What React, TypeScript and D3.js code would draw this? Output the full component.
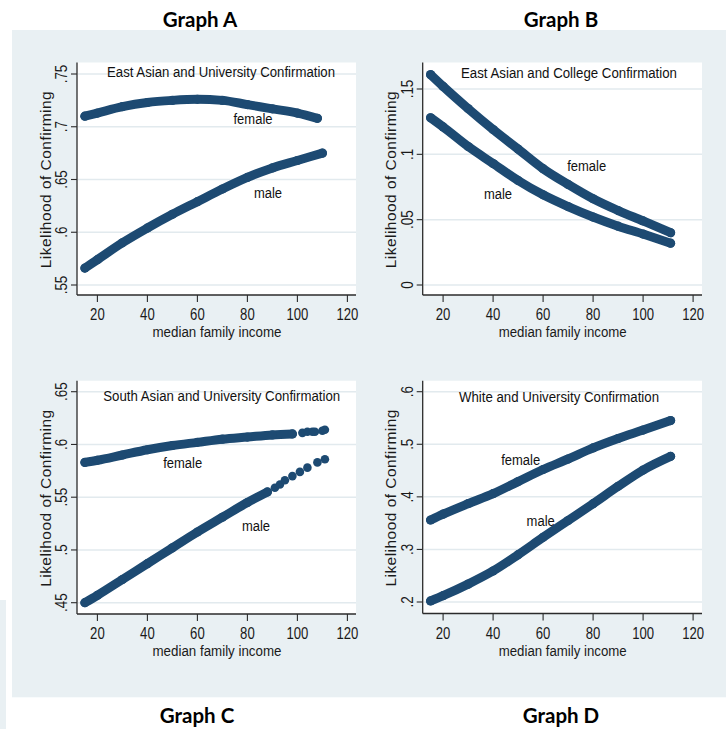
import React from "react";
import * as d3 from "d3";

// ---------- data ----------
const incomeTicks = [20, 40, 60, 80, 100, 120];

// Graph A: East Asian and University Confirmation
const aFemaleIncome = [15, 20, 30, 40, 50, 60, 70, 80, 90, 100, 108];
const aFemaleLik = [0.71, 0.713, 0.719, 0.723, 0.725, 0.726, 0.725, 0.721, 0.717, 0.713, 0.708];
const aMaleIncome = [15, 20, 30, 40, 50, 60, 70, 80, 90, 100, 110];
const aMaleLik = [0.566, 0.574, 0.59, 0.604, 0.617, 0.629, 0.641, 0.652, 0.661, 0.668, 0.675];
const aYTicks = [0.55, 0.6, 0.65, 0.7, 0.75];
const aYLabels = [".55", ".6", ".65", ".7", ".75"];

// Graph B: East Asian and College Confirmation
const bFemaleIncome = [15, 20, 30, 40, 50, 60, 70, 80, 90, 100, 111];
const bFemaleLik = [0.161, 0.152, 0.135, 0.119, 0.104, 0.089, 0.077, 0.066, 0.057, 0.049, 0.04];
const bMaleIncome = [15, 20, 30, 40, 50, 60, 70, 80, 90, 100, 111];
const bMaleLik = [0.128, 0.121, 0.106, 0.093, 0.08, 0.069, 0.06, 0.052, 0.045, 0.039, 0.032];
const bYTicks = [0, 0.05, 0.1, 0.15];
const bYLabels = ["0", ".05", ".1", ".15"];

// Graph C: South Asian and University Confirmation
const cFemaleIncome = [15, 20, 30, 40, 50, 60, 70, 80, 90, 98];
const cFemaleLik = [0.583, 0.585, 0.59, 0.595, 0.599, 0.602, 0.605, 0.607, 0.609, 0.61];
const cFemaleDotIncome = [102, 104, 106, 107, 110, 111];
const cFemaleDotLik = [0.611, 0.612, 0.612, 0.612, 0.613, 0.614];
const cMaleIncome = [15, 20, 30, 40, 50, 60, 70, 80, 88];
const cMaleLik = [0.45, 0.457, 0.472, 0.487, 0.502, 0.517, 0.531, 0.545, 0.555];
const cMaleDotIncome = [91, 93, 95, 98, 101, 104, 108, 111];
const cMaleDotLik = [0.559, 0.562, 0.566, 0.57, 0.574, 0.578, 0.583, 0.586];
const cYTicks = [0.45, 0.5, 0.55, 0.6, 0.65];
const cYLabels = [".45", ".5", ".55", ".6", ".65"];

// Graph D: White and University Confirmation
const dFemaleIncome = [15, 20, 30, 40, 50, 60, 70, 80, 90, 100, 111];
const dFemaleLik = [0.356, 0.367, 0.387, 0.406, 0.429, 0.452, 0.472, 0.493, 0.511, 0.527, 0.545];
const dMaleIncome = [15, 20, 30, 40, 50, 60, 70, 80, 90, 100, 111];
const dMaleLik = [0.202, 0.212, 0.234, 0.259, 0.29, 0.323, 0.355, 0.387, 0.42, 0.451, 0.477];
const dYTicks = [0.2, 0.3, 0.4, 0.5, 0.6];
const dYLabels = [".2", ".3", ".4", ".5", ".6"];

// ---------- style ----------
const DOT = "#1d4a72";
const BG = "#e9f0f3";
const GRID = "#e2eaee";
const AXIS = "#2b2b2b";
const NARROW = "'Liberation Sans', Arial, sans-serif";

type Pair = { x: number[]; y: number[] };
type Panel = {
  graphLabel: string;
  labelX: number;
  labelY: number;
  subtitle: string;
  subCx: number;
  subBase: number;
  subW: number;
  left: number;
  top: number;
  right: number;
  bottom: number;
  yDomain: [number, number];
  yRange: [number, number];
  yTicks: number[];
  yLabels: string[];
  female: Pair;
  male: Pair;
  femaleDots?: Pair;
  maleDots?: Pair;
  femalePos: [number, number];
  malePos: [number, number];
  xTitleW: number;
};

const panels: Panel[] = [
  {
    graphLabel: "Graph A", labelX: 200, labelY: 26.5,
    subtitle: "East Asian and University Confirmation", subCx: 221, subBase: 77.3, subW: 228,
    left: 77, top: 62.5, right: 356, bottom: 295,
    yDomain: [0.55, 0.75], yRange: [285, 74], yTicks: aYTicks, yLabels: aYLabels,
    female: { x: aFemaleIncome, y: aFemaleLik }, male: { x: aMaleIncome, y: aMaleLik },
    femalePos: [253, 118], malePos: [268, 192], xTitleW: 129,
  },
  {
    graphLabel: "Graph B", labelX: 561, labelY: 26.5,
    subtitle: "East Asian and College Confirmation", subCx: 569, subBase: 78, subW: 216,
    left: 422.7, top: 62.5, right: 702, bottom: 295,
    yDomain: [0, 0.15], yRange: [285, 89], yTicks: bYTicks, yLabels: bYLabels,
    female: { x: bFemaleIncome, y: bFemaleLik }, male: { x: bMaleIncome, y: bMaleLik },
    femalePos: [586.7, 165], malePos: [498, 193], xTitleW: 128,
  },
  {
    graphLabel: "Graph C", labelX: 197, labelY: 722.7,
    subtitle: "South Asian and University Confirmation", subCx: 221.7, subBase: 400.5, subW: 237,
    left: 77, top: 380.7, right: 356, bottom: 614,
    yDomain: [0.45, 0.65], yRange: [602.7, 391.7], yTicks: cYTicks, yLabels: cYLabels,
    female: { x: cFemaleIncome, y: cFemaleLik }, male: { x: cMaleIncome, y: cMaleLik },
    femaleDots: { x: cFemaleDotIncome, y: cFemaleDotLik },
    maleDots: { x: cMaleDotIncome, y: cMaleDotLik },
    femalePos: [182.7, 462.7], malePos: [256, 525], xTitleW: 129,
  },
  {
    graphLabel: "Graph D", labelX: 561, labelY: 722.7,
    subtitle: "White and University Confirmation", subCx: 559, subBase: 401.5, subW: 200,
    left: 422.7, top: 380.7, right: 702, bottom: 613.5,
    yDomain: [0.2, 0.6], yRange: [602, 391.7], yTicks: dYTicks, yLabels: dYLabels,
    female: { x: dFemaleIncome, y: dFemaleLik }, male: { x: dMaleIncome, y: dMaleLik },
    femalePos: [520.7, 459.3], malePos: [540.7, 520], xTitleW: 128,
  },
];

function PanelView({ p }: { p: Panel }) {
  const x = d3.scaleLinear().domain([20, 120]).range([p.left + 20.4, p.left + 270.4]);
  const y = d3.scaleLinear().domain(p.yDomain).range(p.yRange);
  const line = d3
    .line<[number, number]>()
    .x((d) => x(d[0]))
    .y((d) => y(d[1]))
    .curve(d3.curveMonotoneX);
  const pts = (s: Pair) => s.x.map((v, i) => [v, s.y[i]] as [number, number]);
  const series = [p.female, p.male];
  const dots = [p.femaleDots, p.maleDots].filter(Boolean) as Pair[];
  const midY = (p.top + p.bottom) / 2 + 1;

  return (
    <g>
      <rect x={p.left} y={p.top} width={p.right - p.left} height={p.bottom - p.top} fill="#ffffff" />
      {p.yTicks.map((t) => (
        <line key={"g" + t} x1={p.left + 1} x2={p.right} y1={y(t)} y2={y(t)} stroke={GRID} strokeWidth={1.5} />
      ))}
      {series.map((s, i) => (
        <g key={"s" + i}>
          <path d={line(pts(s)) || ""} fill="none" stroke={DOT} strokeWidth={9} strokeLinecap="round" strokeLinejoin="round" />
          {pts(s).map((d, j) => (
            <circle key={j} cx={x(d[0])} cy={y(d[1])} r={4.6} fill={DOT} />
          ))}
        </g>
      ))}
      {dots.map((s, i) => (
        <g key={"d" + i}>
          {pts(s).map((d, j) => (
            <circle key={j} cx={x(d[0])} cy={y(d[1])} r={4.3} fill={DOT} />
          ))}
        </g>
      ))}
      {/* axes */}
      <line x1={p.left} x2={p.left} y1={p.top} y2={p.bottom} stroke={AXIS} strokeWidth={1.3} />
      <line x1={p.left} x2={p.right} y1={p.bottom} y2={p.bottom} stroke={AXIS} strokeWidth={1.3} />
      {p.yTicks.map((t, i) => (
        <g key={"yt" + t}>
          <line x1={p.left - 6} x2={p.left} y1={y(t)} y2={y(t)} stroke={AXIS} strokeWidth={1.1} />
          <text
            transform={`translate(${p.left - 15.5},${y(t)}) rotate(-90) scale(0.84,1)`}
            textAnchor="middle"
            dy="0.36em"
            fontFamily={NARROW}
            fontSize={16}
            fill="#1a1a1a"
          >
            {p.yLabels[i]}
          </text>
        </g>
      ))}
      {incomeTicks.map((t) => (
        <g key={"xt" + t}>
          <line x1={x(t)} x2={x(t)} y1={p.bottom} y2={p.bottom + 7} stroke={AXIS} strokeWidth={1.1} />
          <text
            transform={`translate(${x(t)},${p.bottom + 25}) scale(0.82,1)`}
            textAnchor="middle"
            fontFamily={NARROW}
            fontSize={16}
            fill="#1a1a1a"
          >
            {t}
          </text>
        </g>
      ))}
      <text
        x={p.left + 140}
        y={p.bottom + 42}
        textAnchor="middle"
        fontFamily={NARROW}
        fontSize={15.5}
        textLength={p.xTitleW}
        lengthAdjust="spacingAndGlyphs"
        fill="#1a1a1a"
      >
        median family income
      </text>
      <text
        transform={`translate(${p.left - 32},${midY}) rotate(-90)`}
        textAnchor="middle"
        dy="0.36em"
        fontFamily={NARROW}
        fontSize={15.5}
        textLength={177}
        lengthAdjust="spacing"
        fill="#1a1a1a"
      >
        Likelihood of Confirming
      </text>
      <text
        x={p.subCx}
        y={p.subBase}
        textAnchor="middle"
        fontFamily={NARROW}
        fontSize={15.5}
        textLength={p.subW}
        lengthAdjust="spacingAndGlyphs"
        fill="#111"
      >
        {p.subtitle}
      </text>
      <text
        transform={`translate(${p.femalePos[0]},${p.femalePos[1]}) scale(0.84,1)`}
        textAnchor="middle"
        dy="0.36em"
        fontFamily={NARROW}
        fontSize={15.5}
        fill="#111"
      >
        female
      </text>
      <text
        transform={`translate(${p.malePos[0]},${p.malePos[1]}) scale(0.84,1)`}
        textAnchor="middle"
        dy="0.36em"
        fontFamily={NARROW}
        fontSize={15.5}
        fill="#111"
      >
        male
      </text>
      <text
        x={p.labelX}
        y={p.labelY}
        textAnchor="middle"
        fontFamily="Lato, 'Open Sans', sans-serif"
        fontWeight={700}
        fontSize={20.5}
        fill="#000"
      >
        {p.graphLabel}
      </text>
    </g>
  );
}

export default function App() {
  return (
    <svg
      width={728}
      height={729}
      viewBox="0 0 728 729"
      style={{ position: "absolute", left: 0, top: 0, display: "block" }}
    >
      <rect x={0} y={0} width={728} height={729} fill="#ffffff" />
      <rect x={12} y={30} width={714} height={667.3} fill={BG} />
      <rect x={0} y={600} width={6} height={129} fill={BG} />
      {panels.map((p) => (
        <PanelView key={p.graphLabel} p={p} />
      ))}
    </svg>
  );
}
